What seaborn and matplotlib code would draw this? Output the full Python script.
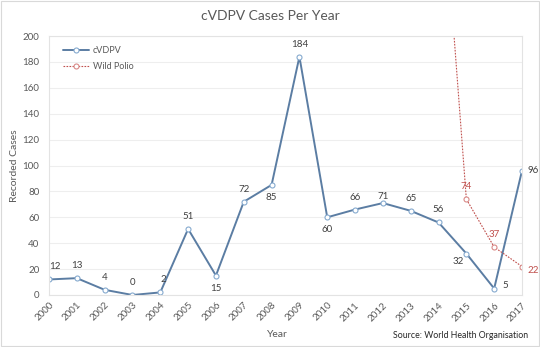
import matplotlib
matplotlib.use("Agg")
import matplotlib.pyplot as plt
import seaborn as sns
import pandas as pd

years = list(range(2000, 2018))
cvdpv = [12, 13, 4, 0, 2, 51, 15, 72, 85, 184, 60, 66, 71, 65, 56, 32, 5, 96]
wild_years = [2014, 2015, 2016, 2017]
wild = [359, 74, 37, 22]
wild_labeled = [False, True, True, True]

# label placement (dx, dy in points; dy is label centre offset)
cv_pos = [(4, 9), (0, 9), (0, 9), (0, 9), (2, 9), (0, 9), (0, -9), (0, 9),
          (0, -9), (0, 9), (0, -9), (0, 9), (0, 5), (0, 9), (0, 9),
          (-6, -6), (8, 2), (8, 0)]
wild_pos = [(0, 0), (0, 9), (0, 9), (8, -3)]

sns.set_theme(style="white")
plt.rcParams['font.family'] = ['Lato', 'DejaVu Sans']

fig = plt.figure(figsize=(5.4, 3.47), dpi=100)
L, R, T, B = 49, 522, 36, 295
ax = fig.add_axes([L / 540, 1 - B / 347, (R - L) / 540, (B - T) / 347])

df1 = pd.DataFrame({"Year": years, "Cases": cvdpv, "Series": "cVDPV"})
df2 = pd.DataFrame({"Year": wild_years, "Cases": wild, "Series": "Wild Polio"})

blue = "#5B7DA3"
red = "#C0504D"

sns.lineplot(data=df1, x="Year", y="Cases", ax=ax, color=blue, linewidth=1.4,
             marker="o", markersize=3.6, markerfacecolor="white",
             markeredgecolor="#86AACF", markeredgewidth=0.8, label="cVDPV")
sns.lineplot(data=df2, x="Year", y="Cases", ax=ax, color=red, linewidth=0.8,
             linestyle=(0, (1.5, 1.2)), marker="o", markersize=3.6,
             markerfacecolor="white", markeredgecolor="#D98A88",
             markeredgewidth=0.8, label="Wild Polio")

ax.set_xlim(2000, 2017)
ax.set_ylim(0, 200)
ax.set_yticks(range(0, 201, 20))
ax.set_xticks(years)
ax.set_xticklabels([str(y) for y in years], rotation=45, ha="right",
                   rotation_mode="anchor", fontsize=7, color="#595959")
ax.tick_params(axis="y", labelsize=7, labelcolor="#595959", length=0, pad=7)
ax.tick_params(axis="x", length=0, pad=4)
ax.grid(axis="y", color="#EEEEEE", linewidth=0.8)
ax.set_axisbelow(True)
for s in ax.spines.values():
    s.set_color("#E3E3E3")
    s.set_linewidth(0.8)

ax.set_xlabel("Year", fontsize=7.5, color="#595959")
ax.set_ylabel("Recorded Cases", fontsize=7.5, color="#595959")
ax.xaxis.set_label_coords((277 - L) / (R - L), -(330 - B) / (B - T))
ax.yaxis.set_label_coords(-(L - 19) / (R - L), 0.5)

for x, y, (dx, dy) in zip(years, cvdpv, cv_pos):
    ax.annotate(str(y), (x, y), xytext=(dx, dy), textcoords="offset points",
                ha="center", va="center", fontsize=7, color="#404040")
for x, y, (dx, dy), show in zip(wild_years, wild, wild_pos, wild_labeled):
    if show:
        ax.annotate(str(y), (x, y), xytext=(dx, dy), textcoords="offset points",
                    ha="center", va="center", fontsize=7, color="#C0504D")

leg = ax.legend(loc="upper left", fontsize=6.5, frameon=False,
                labelcolor="#595959", handlelength=2.9, borderpad=0,
                labelspacing=0.8, handletextpad=0.4, borderaxespad=0,
                bbox_to_anchor=((63 - L) / (R - L), 1 - (46 - T) / (B - T)))

fig.text(0.5, 1 - 16 / 347, "cVDPV Cases Per Year", ha="center", va="center",
         fontsize=10, color="#595959")
fig.text(528 / 540, 1 - 336 / 347, "Source: World Health Organisation",
         ha="right", va="center", fontsize=6.3, color="#262626")

border = plt.Rectangle((0.002, 0.003), 0.996, 0.994, transform=fig.transFigure,
                       fill=False, edgecolor="#D9D9D9", linewidth=0.8)
fig.patches.append(border)

fig.savefig("out.png", dpi=100)
